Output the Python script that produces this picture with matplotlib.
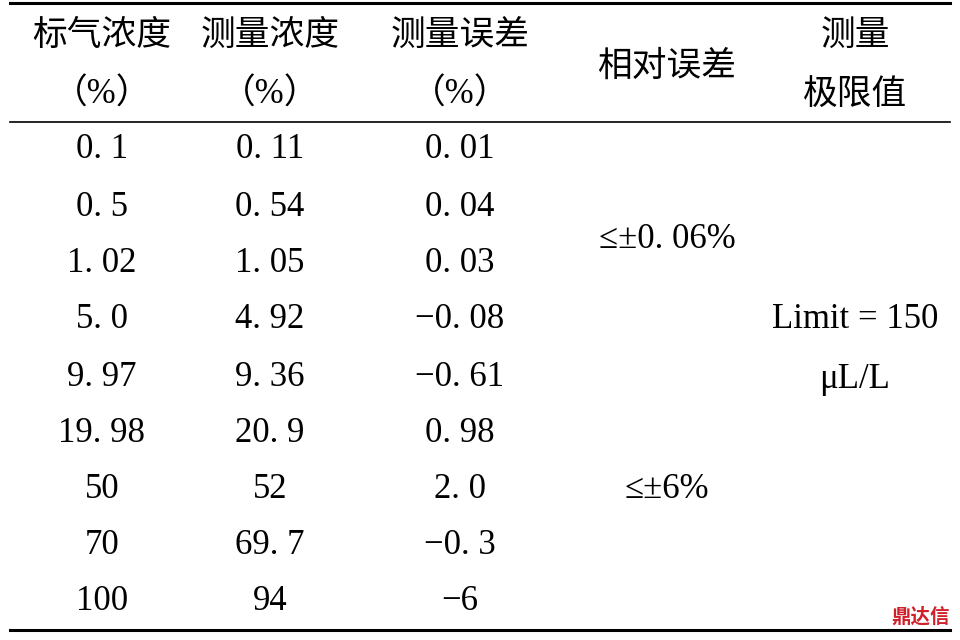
import matplotlib.pyplot as plt

# table content
headers = [["标气浓度", "（%）"], ["测量浓度", "（%）"], ["测量误差", "（%）"]]
std_conc = ["0. 1", "0. 5", "1. 02", "5. 0", "9. 97", "19. 98", "50", "70", "100"]
meas_conc = ["0. 11", "0. 54", "1. 05", "4. 92", "9. 36", "20. 9", "52", "69. 7", "94"]
meas_err = ["0. 01", "0. 04", "0. 03", "−0. 08", "−0. 61", "0. 98", "2. 0", "−0. 3", "−6"]
rel_err = ["≤±0. 06%", "≤±6%"]
limit_txt = ["Limit = 150", "μL/L"]

fig = plt.figure(figsize=(9.6, 6.4), dpi=100)
ax = fig.add_axes([0, 0, 1, 1])
ax.set_xlim(0, 960)
ax.set_ylim(640, 0)
ax.axis("off")

font = ["Liberation Serif", "Noto Sans CJK SC"]
fs = 25
col_x = [102, 270, 460, 667, 855]
row_y = [150, 207, 264, 320, 377, 433, 489, 545, 602]

# rules
ax.plot([10, 950], [3, 3], color="k", lw=2.2)
ax.plot([10, 950], [122, 122], color="k", lw=1.2)
ax.plot([10, 950], [630, 630], color="k", lw=2.2)

for i, h in enumerate(headers):
    ax.text(col_x[i], 36, h[0], ha="center", va="center", fontsize=fs, family=font)
    ax.text(col_x[i], 95, h[1], ha="center", va="center", fontsize=fs, family=font)
ax.text(col_x[3], 67, "相对误差", ha="center", va="center", fontsize=fs, family=font)
ax.text(col_x[4], 36, "测量", ha="center", va="center", fontsize=fs, family=font)
ax.text(col_x[4], 95, "极限值", ha="center", va="center", fontsize=fs, family=font)

for col, vals in zip(col_x[:3], [std_conc, meas_conc, meas_err]):
    for y, v in zip(row_y, vals):
        ax.text(col, y, v, ha="center", va="center", fontsize=fs, family=font)

ax.text(col_x[3], 240, rel_err[0], ha="center", va="center", fontsize=fs, family=font)
ax.text(col_x[3], 490, rel_err[1], ha="center", va="center", fontsize=fs, family=font)
ax.text(col_x[4], 320, limit_txt[0], ha="center", va="center", fontsize=fs, family=font)
ax.text(col_x[4], 380, limit_txt[1], ha="center", va="center", fontsize=fs, family=font)

ax.text(950, 617, "鼎达信", ha="right", va="center", fontsize=14,
        family="Noto Sans CJK SC", color="#d0202a", fontweight="bold")

fig.savefig("out.png", dpi=100)
